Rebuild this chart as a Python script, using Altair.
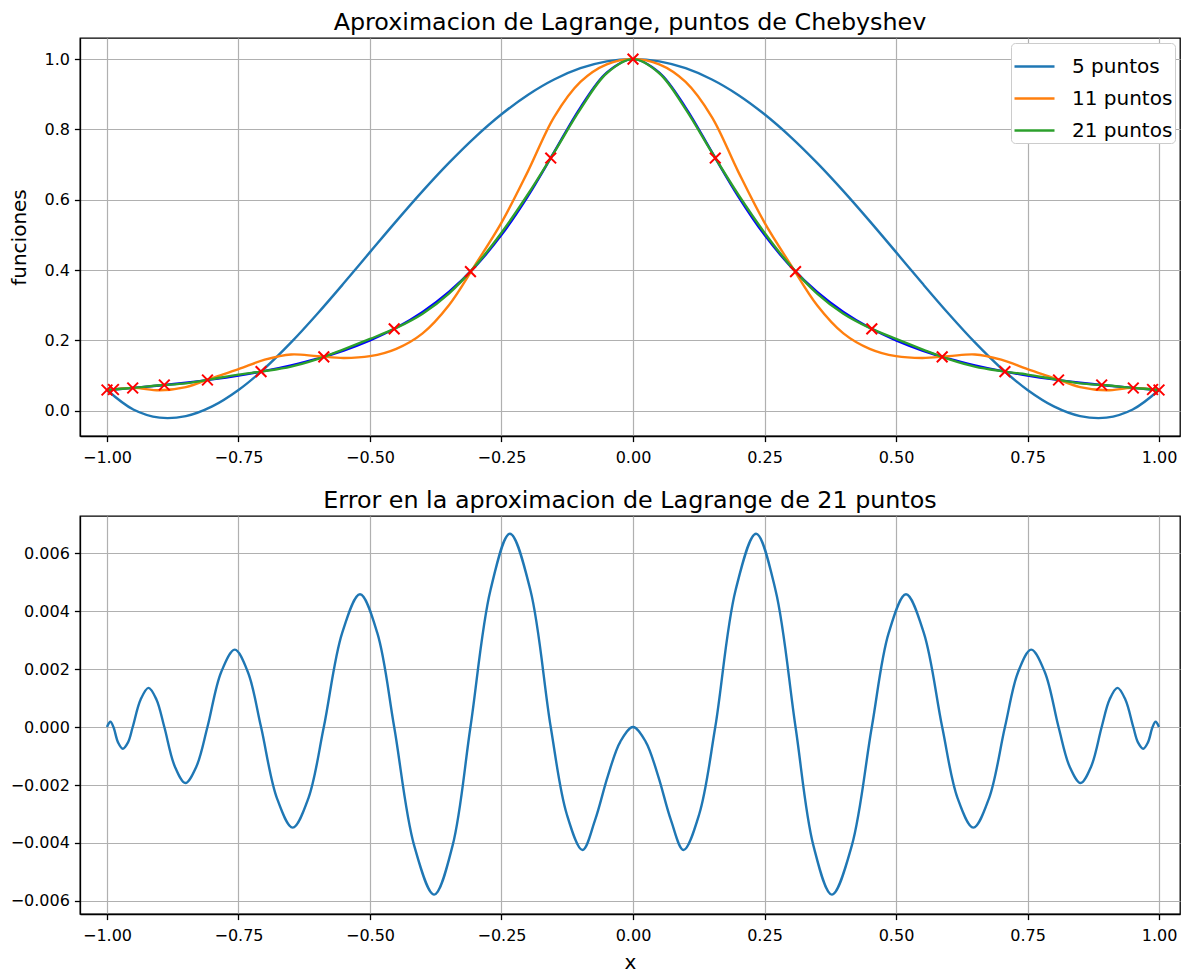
import altair as alt
import pandas as pd

# ---------------- data ----------------
x_grid = [-1.0, -0.95, -0.9, -0.85, -0.8, -0.75, -0.7, -0.65, -0.6, -0.55, -0.5,
          -0.45, -0.4, -0.35, -0.3, -0.25, -0.2, -0.15, -0.1, -0.05, 0.0,
          0.05, 0.1, 0.15, 0.2, 0.25, 0.3, 0.35, 0.4, 0.45, 0.5,
          0.55, 0.6, 0.65, 0.7, 0.75, 0.8, 0.85, 0.9, 0.95, 1.0]

f_true = [0.0588, 0.0648, 0.0716, 0.0796, 0.0890, 0.1000, 0.1131, 0.1289, 0.1479, 0.1712, 0.2000,
          0.2358, 0.2809, 0.3378, 0.4098, 0.5000, 0.6098, 0.7353, 0.8621, 0.9615, 1.0,
          0.9615, 0.8621, 0.7353, 0.6098, 0.5000, 0.4098, 0.3378, 0.2809, 0.2358, 0.2000,
          0.1712, 0.1479, 0.1289, 0.1131, 0.1000, 0.0890, 0.0796, 0.0716, 0.0648, 0.0588]

p5 = [0.0588, 0.0033, -0.0199, -0.0155, 0.0121, 0.0588, 0.1207, 0.1941, 0.2757, 0.3622, 0.4510,
      0.5392, 0.6245, 0.7048, 0.7783, 0.8431, 0.8981, 0.9420, 0.9740, 0.9935, 1.0,
      0.9935, 0.9740, 0.9420, 0.8981, 0.8431, 0.7783, 0.7048, 0.6245, 0.5392, 0.4510,
      0.3622, 0.2757, 0.1941, 0.1207, 0.0588, 0.0121, -0.0155, -0.0199, 0.0033, 0.0588]

p11 = [0.0588, 0.065, 0.058, 0.067, 0.093, 0.118, 0.145, 0.160, 0.155, 0.150, 0.155,
       0.176, 0.220, 0.300, 0.415, 0.535, 0.680, 0.835, 0.935, 0.985, 1.0,
       0.985, 0.935, 0.835, 0.680, 0.535, 0.415, 0.300, 0.220, 0.176, 0.155,
       0.150, 0.155, 0.160, 0.145, 0.118, 0.093, 0.067, 0.058, 0.065, 0.0588]

p21 = [0.0588, 0.0648, 0.0722, 0.0777, 0.0897, 0.1026, 0.1125, 0.1254, 0.1468, 0.1746, 0.2040,
       0.2354, 0.2759, 0.3332, 0.4111, 0.5062, 0.6149, 0.7345, 0.8579, 0.9597, 1.0,
       0.9597, 0.8579, 0.7345, 0.6149, 0.5062, 0.4111, 0.3332, 0.2759, 0.2354, 0.2040,
       0.1746, 0.1468, 0.1254, 0.1125, 0.1026, 0.0897, 0.0777, 0.0722, 0.0648, 0.0588]

x_nodes = [-1.0, -0.9877, -0.9511, -0.8910, -0.8090, -0.7071, -0.5878, -0.4540, -0.3090, -0.1564, 0.0,
           0.1564, 0.3090, 0.4540, 0.5878, 0.7071, 0.8090, 0.8910, 0.9511, 0.9877, 1.0]
y_nodes = [0.0588, 0.0602, 0.0646, 0.0730, 0.0872, 0.1111, 0.1532, 0.2327, 0.3956, 0.7186, 1.0,
           0.7186, 0.3956, 0.2327, 0.1532, 0.1111, 0.0872, 0.0730, 0.0646, 0.0602, 0.0588]

x_err = [-1.0, -0.9935, -0.9877, -0.979, -0.970, -0.960, -0.9511, -0.936, -0.921, -0.906, -0.891,
         -0.871, -0.851, -0.830, -0.809, -0.783, -0.757, -0.732, -0.7071, -0.677, -0.647, -0.617,
         -0.5878, -0.553, -0.519, -0.486, -0.454, -0.416, -0.378, -0.343, -0.309, -0.271, -0.234,
         -0.195, -0.1564, -0.126, -0.096, -0.072, -0.048, -0.024, 0.0,
         0.024, 0.048, 0.072, 0.096, 0.126, 0.1564, 0.195, 0.234, 0.271, 0.309, 0.343, 0.378,
         0.416, 0.454, 0.486, 0.519, 0.553, 0.5878, 0.617, 0.647, 0.677, 0.7071, 0.732, 0.757,
         0.783, 0.809, 0.830, 0.851, 0.871, 0.891, 0.906, 0.921, 0.936, 0.9511, 0.960, 0.970,
         0.979, 0.9877, 0.9935, 1.0]
err21 = [0.0, 0.00018, 0.0, -0.00053, -0.00075, -0.00053, 0.0, 0.00095, 0.00135, 0.00095, 0.0,
         -0.00136, -0.00193, -0.00136, 0.0, 0.00189, 0.00267, 0.00189, 0.0, -0.00245, -0.00347, -0.00245,
         0.0, 0.00324, 0.00458, 0.00324, 0.0, -0.00409, -0.00578, -0.00409, 0.0, 0.00472, 0.00667,
         0.00472, 0.0, -0.0030, -0.00424, -0.0032, -0.0017, -0.0005, 0.0,
         -0.0005, -0.0017, -0.0032, -0.00424, -0.0030, 0.0, 0.00472, 0.00667, 0.00472, 0.0, -0.00409, -0.00578,
         -0.00409, 0.0, 0.00324, 0.00458, 0.00324, 0.0, -0.00245, -0.00347, -0.00245, 0.0, 0.00189, 0.00267,
         0.00189, 0.0, -0.00136, -0.00193, -0.00136, 0.0, 0.00095, 0.00135, 0.00095, 0.0, -0.00053, -0.00075,
         -0.00053, 0.0, 0.00018, 0.0]

series_names = ["5 puntos", "11 puntos", "21 puntos"]
series_colors = ["#1f77b4", "#ff7f0e", "#2ca02c"]
x_ticks = [-1.0, -0.75, -0.5, -0.25, 0.0, 0.25, 0.5, 0.75, 1.0]
y_ticks_top = [0.0, 0.2, 0.4, 0.6, 0.8, 1.0]
y_ticks_bot = [-0.006, -0.004, -0.002, 0.0, 0.002, 0.004, 0.006]

# ---------------- tables ----------------
rows = []
for order, (name, vals) in enumerate(zip(series_names, [p5, p11, p21])):
    for xv, yv in zip(x_grid, vals):
        rows.append({"x": xv, "y": yv, "serie": name, "o": order})
df_lines = pd.DataFrame(rows)
df_true = pd.DataFrame({"x": x_grid, "y": f_true})
df_nodes = pd.DataFrame({"x": x_nodes, "y": y_nodes})
df_err = pd.DataFrame({"x": x_err, "e": err21})

FONT = "DejaVu Sans"
LW = 2.4
W = 1100

xscale = alt.Scale(domain=[-1.0513, 1.0399], nice=False, zero=False)
xaxis = alt.Axis(values=x_ticks, format=".2f", title=None)

true_line = alt.Chart(df_true).mark_line(color="#0000ff", strokeWidth=LW, interpolate="catmull-rom").encode(
    x=alt.X("x:Q", scale=xscale, axis=xaxis),
    y=alt.Y("y:Q", scale=alt.Scale(domain=[-0.072, 1.060], nice=False, zero=False),
            axis=alt.Axis(values=y_ticks_top, format=".1f", title="funciones", titlePadding=14)),
)

lines = alt.Chart(df_lines).mark_line(strokeWidth=LW, interpolate="catmull-rom").encode(
    x=alt.X("x:Q", scale=xscale, axis=xaxis),
    y=alt.Y("y:Q"),
    color=alt.Color("serie:N", scale=alt.Scale(domain=series_names, range=series_colors),
                    sort=series_names,
                    legend=alt.Legend(title=None)),
    detail="o:O",
)

points = alt.Chart(df_nodes).mark_point(
    shape="M-1,-1L1,1M-1,1L1,-1", filled=False, color="red", strokeWidth=2, size=115, opacity=1
).encode(
    x=alt.X("x:Q", scale=xscale, axis=xaxis),
    y=alt.Y("y:Q"),
)

top = alt.layer(true_line, lines, points).properties(
    width=W, height=398, title="Aproximacion de Lagrange, puntos de Chebyshev"
)

bottom = alt.Chart(df_err).mark_line(color="#1f77b4", strokeWidth=LW, interpolate="catmull-rom").encode(
    x=alt.X("x:Q", scale=xscale, axis=alt.Axis(values=x_ticks, format=".2f", title="x", titlePadding=9)),
    y=alt.Y("e:Q", scale=alt.Scale(domain=[-0.00645, 0.00728], nice=False, zero=False),
            axis=alt.Axis(values=y_ticks_bot, format=".3f", title=None)),
).properties(width=W, height=398, title="Error en la aproximacion de Lagrange de 21 puntos")

chart = alt.vconcat(top, bottom, spacing=21).properties(
    padding={"left": 1, "top": 2, "right": 0, "bottom": 0}
).configure(font=FONT).configure_view(
    stroke="black", strokeWidth=1.3
).configure_axis(
    grid=True, gridColor="#b0b0b0", gridWidth=1.2,
    domainColor="black", domainWidth=1.3,
    tickColor="black", tickSize=5.6, tickWidth=1.3,
    labelFont=FONT, labelFontSize=16, labelColor="black",
    titleFont=FONT, titleFontSize=20, titleFontWeight="normal", titleColor="black",
).configure_axisX(labelPadding=8).configure_axisY(labelPadding=5).configure_title(
    font=FONT, fontSize=23.8, fontWeight="normal", anchor="middle", color="black", offset=3
).configure_legend(
    orient="top-right", offset=5, fillColor="white", strokeColor="#cccccc", cornerRadius=4,
    padding=2, labelFont=FONT, labelFontSize=20, labelColor="black", labelOffset=16,
    symbolType="stroke", symbolSize=1600, symbolStrokeWidth=LW, rowPadding=-13,
)

chart.save("out.html", embed_options={"renderer": "svg", "actions": False})
